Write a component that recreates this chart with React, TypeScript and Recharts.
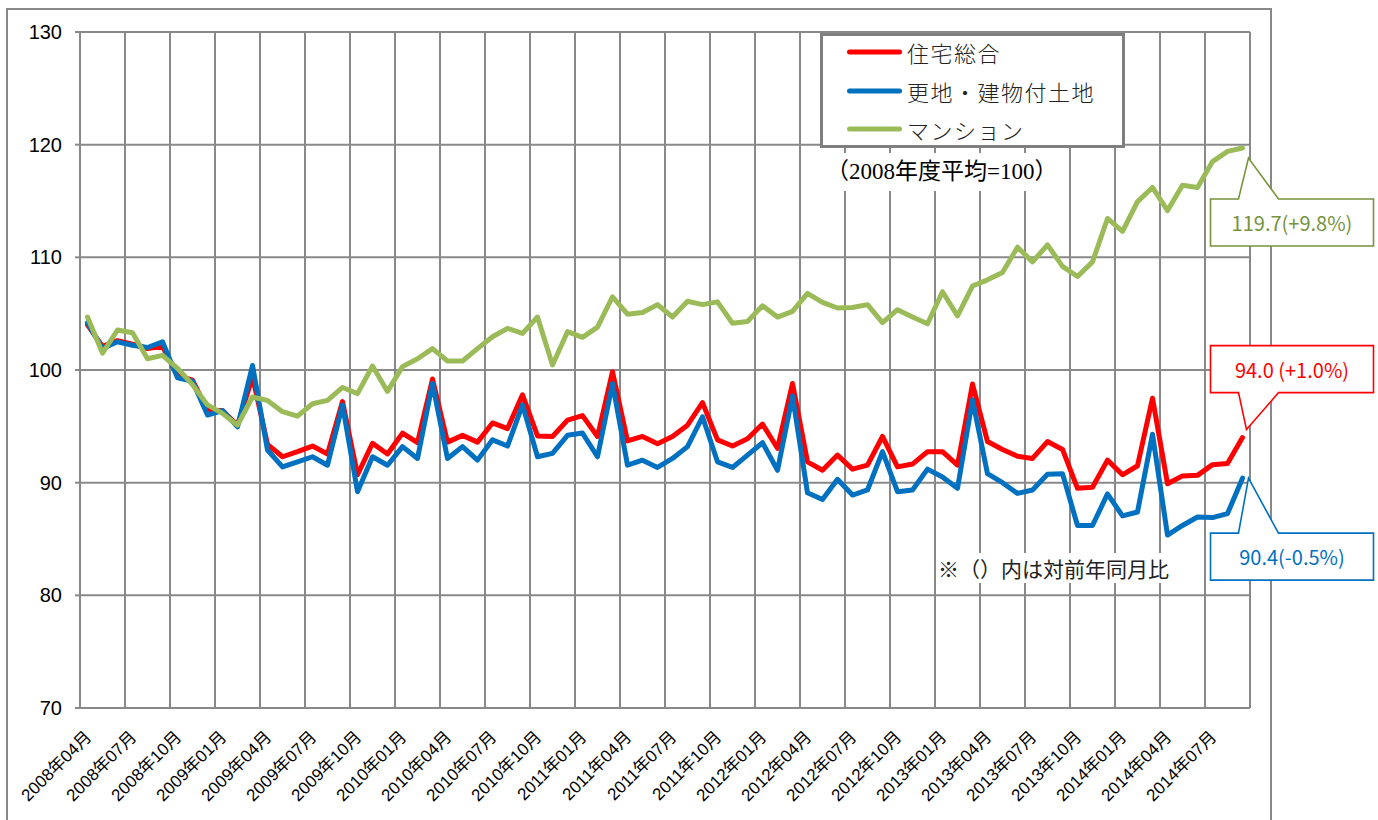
import React from 'react';
import { LineChart, Line, XAxis, YAxis, CartesianGrid, ReferenceDot } from 'recharts';

// 2008年04月 … 2014年09月 (月次)
const months = [
  '2008年04月', '2008年05月', '2008年06月', '2008年07月', '2008年08月', '2008年09月',
  '2008年10月', '2008年11月', '2008年12月', '2009年01月', '2009年02月', '2009年03月',
  '2009年04月', '2009年05月', '2009年06月', '2009年07月', '2009年08月', '2009年09月',
  '2009年10月', '2009年11月', '2009年12月', '2010年01月', '2010年02月', '2010年03月',
  '2010年04月', '2010年05月', '2010年06月', '2010年07月', '2010年08月', '2010年09月',
  '2010年10月', '2010年11月', '2010年12月', '2011年01月', '2011年02月', '2011年03月',
  '2011年04月', '2011年05月', '2011年06月', '2011年07月', '2011年08月', '2011年09月',
  '2011年10月', '2011年11月', '2011年12月', '2012年01月', '2012年02月', '2012年03月',
  '2012年04月', '2012年05月', '2012年06月', '2012年07月', '2012年08月', '2012年09月',
  '2012年10月', '2012年11月', '2012年12月', '2013年01月', '2013年02月', '2013年03月',
  '2013年04月', '2013年05月', '2013年06月', '2013年07月', '2013年08月', '2013年09月',
  '2013年10月', '2013年11月', '2013年12月', '2014年01月', '2014年02月', '2014年03月',
  '2014年04月', '2014年05月', '2014年06月', '2014年07月', '2014年08月', '2014年09月',
];

// 住宅総合
const totalIndex = [
  104.0, 102.1, 102.6, 102.3, 101.9, 102.1, 99.5, 99.1, 96.4, 96.4, 95.1, 99.4,
  93.4, 92.3, 92.75, 93.25, 92.55, 97.2, 90.7, 93.5, 92.55, 94.4, 93.55, 99.2,
  93.6, 94.2, 93.6, 95.3, 94.8, 97.8, 94.15, 94.1, 95.55, 95.95, 94.1, 99.85,
  93.7, 94.1, 93.45, 94.1, 95.1, 97.1, 93.8, 93.25, 93.9, 95.2, 93.05, 98.8,
  91.85, 91.1, 92.45, 91.2, 91.55, 94.1, 91.4, 91.65, 92.75, 92.75, 91.55, 98.75,
  93.65, 92.95, 92.35, 92.15, 93.65, 92.95, 89.5, 89.6, 92.0, 90.7, 91.5, 97.5,
  89.9, 90.6, 90.65, 91.6, 91.7, 94.0,
];

// 更地・建物付土地
const landIndex = [
  104.2, 101.9, 102.5, 102.2, 102.0, 102.5, 99.3, 99.0, 96.0, 96.4, 94.95, 100.4,
  92.9, 91.4, 91.85, 92.3, 91.55, 96.9, 89.2, 92.3, 91.55, 93.2, 92.15, 98.8,
  92.15, 93.2, 92.0, 93.8, 93.25, 96.9, 92.3, 92.6, 94.2, 94.4, 92.3, 98.8,
  91.55, 92.0, 91.35, 92.15, 93.2, 95.85, 91.85, 91.35, 92.45, 93.55, 91.1, 97.7,
  89.1, 88.5, 90.3, 88.9, 89.35, 92.75, 89.2, 89.35, 91.2, 90.5, 89.5, 97.35,
  90.8, 90.0, 89.05, 89.35, 90.75, 90.8, 86.2, 86.2, 89.0, 87.05, 87.4, 94.3,
  85.35, 86.2, 86.95, 86.9, 87.25, 90.4,
];

// マンション
const condoIndex = [
  104.7, 101.5, 103.55, 103.3, 101.0, 101.3, 100.15, 98.7, 96.9, 96.15, 95.1, 97.6,
  97.3, 96.3, 95.9, 97.0, 97.3, 98.45, 97.9, 100.35, 98.1, 100.3, 101.0, 101.9,
  100.8, 100.8, 101.9, 102.95, 103.7, 103.25, 104.7, 100.45, 103.4, 102.9, 103.8, 106.5,
  104.95, 105.1, 105.8, 104.7, 106.1, 105.8, 106.05, 104.15, 104.3, 105.7, 104.7, 105.2,
  106.8, 106.0, 105.5, 105.55, 105.8, 104.2, 105.35, 104.7, 104.1, 106.95, 104.8, 107.45,
  108.0, 108.65, 110.9, 109.6, 111.1, 109.2, 108.3, 109.6, 113.45, 112.3, 114.95, 116.2,
  114.15, 116.4, 116.2, 118.5, 119.4, 119.7,
];

const yTicks = [70, 80, 90, 100, 110, 120, 130];
// labelled months (every 3rd) and the category boundaries used for the vertical grid
const labelTicks = [0, 3, 6, 9, 12, 15, 18, 21, 24, 27, 30, 33, 36, 39, 42, 45, 48, 51, 54, 57, 60, 63, 66, 69, 72, 75];
const gridBoundaries = [
  -0.5, 2.5, 5.5, 8.5, 11.5, 14.5, 17.5, 20.5, 23.5, 26.5, 29.5, 32.5, 35.5, 38.5,
  41.5, 44.5, 47.5, 50.5, 53.5, 56.5, 59.5, 62.5, 65.5, 68.5, 71.5, 74.5, 77.5,
];

const series = [
  { key: 'total', name: '住宅総合', color: '#FF0000' },
  { key: 'land', name: '更地・建物付土地', color: '#0070C0' },
  { key: 'condo', name: 'マンション', color: '#9BBB59' },
];

const callouts = [
  { key: 'condo', text: '119.7(+9.8%)', color: '#77933C', value: condoIndex[77], below: true, tipDx: 6, tipDy: 10, boxOff: 51 },
  { key: 'total', text: '94.0 (+1.0%)', color: '#FF0000', value: totalIndex[77], below: false, tipDx: 4, tipDy: -8, boxOff: -45 },
  { key: 'land', text: '90.4(-0.5%)', color: '#0070C0', value: landIndex[77], below: true, tipDx: 6, tipDy: 0, boxOff: 55 },
];

const data = months.map((m, i) => ({
  idx: i,
  month: m,
  total: totalIndex[i],
  land: landIndex[i],
  condo: condoIndex[i],
}));

const GRID = '#898989';
const JP = '"Noto Sans CJK JP", sans-serif';

const MonthTick = (props: any) => {
  const { x, y, payload } = props;
  const px = x + 5;
  const py = y + 30;
  return (
    <text
      x={px}
      y={py}
      transform={`rotate(-45 ${px} ${py})`}
      textAnchor="end"
      fontSize={17}
      fill="#000"
      fontFamily={'"Liberation Sans", "Noto Sans CJK JP", sans-serif'}
    >
      {months[payload.value]}
    </text>
  );
};

const ValueTick = (props: any) => {
  const { x, y, payload } = props;
  return (
    <text
      x={x}
      y={y}
      dominantBaseline="central"
      textAnchor="end"
      fontSize={20}
      fill="#000"
      fontFamily={'"Liberation Sans", Arial, sans-serif'}
    >
      {payload.value}
    </text>
  );
};

const makeCallout = (c: typeof callouts[number]) => (props: any) => {
  const { cx, cy } = props;
  const left = cx - 32;
  const right = cx + 131;
  const h = 47;
  const b1 = cx - 4;
  const b2 = cx + 36;
  const tx = cx + c.tipDx;
  const ty = cy + c.tipDy;
  let d: string;
  let top: number;
  if (c.below) {
    top = cy + c.boxOff;
    d = `M${left},${top} L${b1},${top} L${tx},${ty} L${b2},${top} L${right},${top} L${right},${top + h} L${left},${top + h} Z`;
  } else {
    const bottom = cy + c.boxOff;
    top = bottom - h;
    d = `M${left},${top} L${right},${top} L${right},${bottom} L${b2},${bottom} L${tx},${ty} L${b1},${bottom} L${left},${bottom} Z`;
  }
  return (
    <g>
      <path d={d} fill="#fff" stroke={c.color} strokeWidth={1.6} />
      <text
        x={(left + right) / 2}
        y={top + h / 2}
        dominantBaseline="central"
        textAnchor="middle"
        fontSize={20}
        fill={c.color}
        fontFamily={JP}
      >
        {c.text}
      </text>
    </g>
  );
};

const App = () => {
  return (
    <div style={{ position: 'absolute', left: 0, top: 0, width: 1378, height: 820, background: '#fff' }}>
      <div
        style={{
          position: 'absolute',
          left: 6,
          top: 8,
          width: 1266,
          height: 812,
          boxSizing: 'border-box',
          border: `2px solid ${GRID}`,
          borderBottom: 'none',
        }}
      />
      <div style={{ position: 'absolute', left: 0, top: 0 }}>
        <LineChart width={1378} height={820} data={data} margin={{ top: 32, right: 128, left: 20, bottom: 0 }}>
          <CartesianGrid stroke={GRID} strokeWidth={2} verticalValues={gridBoundaries} />
          <XAxis
            dataKey="idx"
            type="number"
            domain={[-0.5, 77.5]}
            ticks={labelTicks}
            interval={0}
            tick={<MonthTick />}
            tickLine={false}
            tickSize={0}
            tickMargin={0}
            height={112}
            axisLine={{ stroke: GRID, strokeWidth: 2 }}
          />
          <YAxis
            domain={[70, 130]}
            ticks={yTicks}
            interval={0}
            width={60}
            tickSize={5}
            tickMargin={13}
            tickLine={{ stroke: GRID, strokeWidth: 2 }}
            axisLine={{ stroke: GRID, strokeWidth: 2 }}
            tick={<ValueTick />}
          />
          {series.map((s) => (
            <Line
              key={s.key}
              type="linear"
              dataKey={s.key}
              name={s.name}
              stroke={s.color}
              strokeWidth={5}
              strokeLinejoin="round"
              strokeLinecap="round"
              dot={false}
              activeDot={false}
              isAnimationActive={false}
            />
          ))}
          {callouts.map((c) => (
            <ReferenceDot
              key={c.key}
              x={77}
              y={c.value}
              ifOverflow="visible"
              shape={makeCallout(c)}
            />
          ))}
        </LineChart>
      </div>

      {/* legend */}
      <div
        style={{
          position: 'absolute',
          left: 820,
          top: 33,
          width: 305,
          height: 115,
          boxSizing: 'border-box',
          border: '3px solid #7f7f7f',
          background: '#fff',
        }}
      >
        {series.map((s, k) => (
          <div
            key={s.key}
            style={{ position: 'absolute', left: 24, top: -1 + k * 38.5, height: 34, display: 'flex', alignItems: 'center' }}
          >
            <svg width={55} height={8} style={{ display: 'block' }}>
              <line x1={2.5} y1={4} x2={52.5} y2={4} stroke={s.color} strokeWidth={5} strokeLinecap="round" />
            </svg>
            <span style={{ marginLeft: 5, fontSize: 22, letterSpacing: 1.5, fontFamily: JP, fontWeight: 300, color: '#222', whiteSpace: 'nowrap' }}>
              {s.name}
            </span>
          </div>
        ))}
      </div>

      <div
        style={{
          position: 'absolute',
          left: 826,
          top: 153,
          height: 38,
          lineHeight: '38px',
          padding: '0 6px 0 0',
          background: '#fff',
          fontSize: 23,
          fontFamily: '"Liberation Serif", "Noto Sans CJK JP", serif',
          color: '#000',
          whiteSpace: 'nowrap',
        }}
      >
        （2008年度平均=100）
      </div>

      <div
        style={{
          position: 'absolute',
          left: 938,
          top: 553,
          height: 30,
          lineHeight: '30px',
          background: '#fff',
          fontSize: 21,
          fontFamily: JP,
          color: '#222',
          whiteSpace: 'nowrap',
        }}
      >
        ※（）内は対前年同月比
      </div>
    </div>
  );
};

export default App;
